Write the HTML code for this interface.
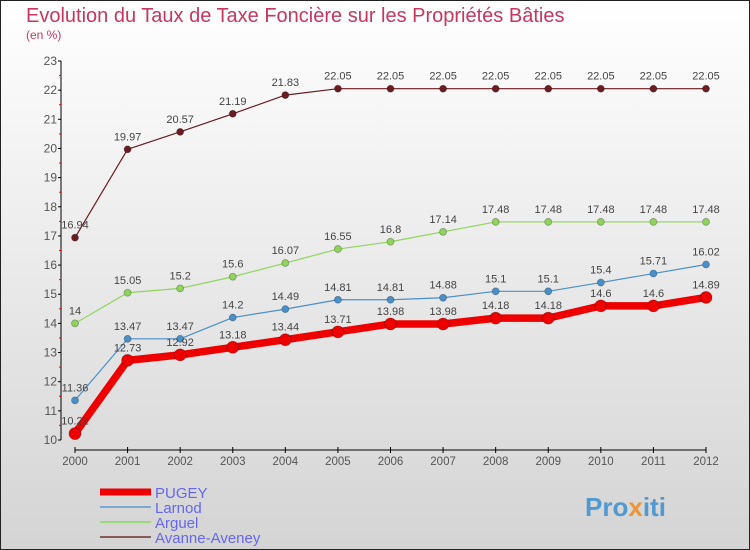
<!DOCTYPE html>
<html><head><meta charset="utf-8"><style>
body{margin:0;width:750px;height:550px;overflow:hidden;font-family:"Liberation Sans",sans-serif}
svg{display:block}
</style></head><body>
<svg id="c" width="750" height="550" xmlns="http://www.w3.org/2000/svg">
<defs><linearGradient id="bg" x1="0" y1="0" x2="0" y2="1"><stop offset="0" stop-color="#ffffff"/><stop offset="1" stop-color="#d4d4d4"/></linearGradient></defs>
<rect x="0.5" y="0.5" width="749" height="549" fill="url(#bg)" stroke="#222"/>
<text x="26" y="22" font-size="20" fill="#c8365f">Evolution du Taux de Taxe Foncière sur les Propriétés Bâties</text>
<text x="26" y="39" font-size="12" fill="#c8365f">(en %)</text>
<g id="axes"></g><g id="series"></g><g id="legend"></g>
<text x="585" y="516" font-size="26" font-weight="bold" fill="#3a8fd0" opacity="0.85">Pro<tspan fill="#f08a1a">x</tspan>iti</text>
</svg>
<script>
const years=[2000,2001,2002,2003,2004,2005,2006,2007,2008,2009,2010,2011,2012];
const yTicks=[10,11,12,13,14,15,16,17,18,19,20,21,22,23];
const pugey=[10.22,12.73,12.92,13.18,13.44,13.71,13.98,13.98,14.18,14.18,14.6,14.6,14.89];
const larnod=[11.36,13.47,13.47,14.2,14.49,14.81,14.81,14.88,15.1,15.1,15.4,15.71,16.02];
const arguel=[14,15.05,15.2,15.6,16.07,16.55,16.8,17.14,17.48,17.48,17.48,17.48,17.48];
const avanne=[16.94,19.97,20.57,21.19,21.83,22.05,22.05,22.05,22.05,22.05,22.05,22.05,22.05];
const NS="http://www.w3.org/2000/svg";
const xS=i=>75+i*(706-75)/12;
const yS=v=>440-(v-10)*(440-61)/13;
function mk(t,a,p){const e=document.createElementNS(NS,t);for(const k in a)e.setAttribute(k,a[k]);p.appendChild(e);return e;}
const ax=document.getElementById('axes');
const yl=mk('line',{x1:61,y1:61,x2:61,y2:440,stroke:'#000'},ax);


yTicks.forEach(v=>{
 mk('line',{x1:58,x2:61,y1:yS(v),y2:yS(v),stroke:'#000'},ax);
 if(v<23)mk('line',{x1:59,x2:61,y1:yS(v+0.5),y2:yS(v+0.5),stroke:'#e00'},ax);
 const t=mk('text',{x:57,y:yS(v)+4,'font-size':12,fill:'#555','text-anchor':'end'},ax);t.textContent=v;
 
 
});
const xl=mk('line',{x1:75,y1:450,x2:706,y2:450,stroke:'#000'},ax);


years.forEach((y,i)=>{
 mk('line',{x1:xS(i),x2:xS(i),y1:447,y2:453,stroke:'#000'},ax);
 const t=mk('text',{x:xS(i),y:465,'font-size':11.5,fill:'#555','text-anchor':'middle'},ax);t.textContent=y;
 
 
});
const sg=document.getElementById('series');
function series(vals,color,w,r,name,labelDy){
 const g=mk('g',{},sg);
 
 
 const l=mk('polyline',{points:vals.map((v,i)=>xS(i)+','+yS(v)).join(' '),fill:'none',stroke:color,'stroke-width':w,'stroke-linejoin':'round'},g);
 
 
 vals.forEach((v,i)=>{
  const c=mk('circle',{cx:xS(i),cy:yS(v),r:r,fill:color,stroke:'rgba(0,0,0,0.3)','stroke-width':0.8},g);
  
  
  const t=mk('text',{x:xS(i),y:yS(v)+labelDy,'font-size':11,fill:'#444','text-anchor':'middle'},g);t.textContent=v;
  
  
 });
}
series(avanne,'#6b1b22',1.2,3.5,'avanne-aveney',-9);
series(arguel,'#8fd35c',1.2,3.5,'arguel',-9);
series(larnod,'#4a90c8',1.2,3.5,'larnod',-9);
series(pugey,'#ee0000',7.5,6,'pugey',-9);
const lg=document.getElementById('legend');
[['PUGEY','#ee0000',7],['Larnod','#7aaad0',2],['Arguel','#9ad87a',2],['Avanne-Aveney','#8a5a5a',2]].forEach((d,i)=>{
 const y=492+i*15;
 const l=mk('line',{x1:100,x2:151,y1:y,y2:y,stroke:d[1],'stroke-width':d[2]},lg);
 
 
 const t=mk('text',{x:155,y:y+6,'font-size':15,fill:'#6666ee'},lg);t.textContent=d[0];
 
 
});
</script>
</body></html>
